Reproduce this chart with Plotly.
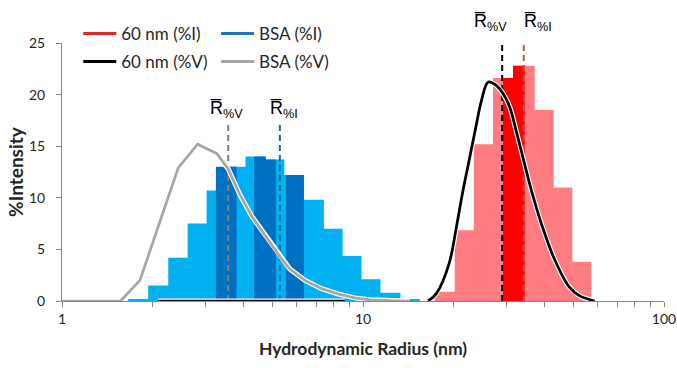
import math
import plotly.graph_objects as go

# ---------------- data ----------------
# BSA intensity distribution (bin edges in nm, %I per bin)
bsa_edges = [1.660, 1.934, 2.254, 2.615, 3.023, 3.506, 4.070, 4.721, 5.480,
             6.362, 7.413, 8.553, 9.886, 11.43, 13.32, 15.44]
bsa_int = [0.2, 1.5, 4.2, 7.5, 10.7, 13.0, 14.0, 13.7, 12.2, 9.8, 7.0, 4.35,
           2.1, 0.8, 0.2]
# highlighted BSA bars
bsa_dark_left = [3.246, 4.348, 4.757, 5.543]
bsa_dark_right = [3.802, 4.757, 5.135, 6.362]
bsa_dark_int = [13.0, 14.0, 13.7, 12.2]

# 60 nm particle intensity distribution
np_edges = [17.31, 20.17, 23.33, 27.04, 31.50, 37.19, 43.00, 49.61, 57.37]
np_int = [0.9, 6.85, 15.2, 21.6, 22.8, 18.5, 11.0, 3.8]
np_dark_left = [29.19, 31.50]
np_dark_right = [31.50, 34.44]
np_dark_int = [21.6, 22.8]

# BSA volume distribution
bsa_vol_r = [1.0, 1.564, 1.815, 2.433, 2.822, 3.263, 3.566, 3.899, 4.273,
             4.721, 5.294, 5.714, 6.409, 7.282, 8.266, 9.394, 10.53, 12.27, 14.30]
bsa_vol = [0, 0, 2.0, 12.9, 15.2, 14.3, 12.8, 10.3, 8.2, 6.4, 4.3, 3.1, 2.0,
           1.2, 0.68, 0.3, 0.12, 0.03, 0]

# 60 nm volume distribution
np_vol_r = [2.08, 8.7, None, 16.45, 17.54, 19.31, 20.44, 21.39, 22.51, 23.69,
            24.74, 26.02, 27.39, 29.19, 30.72, 32.40, 34.20, 36.52, 39.44,
            43.34, 48.33, 52.46, 55.90, 58.83]
np_vol = [0, 0, None, 0, 0.74, 3.6, 7.2, 10.4, 13.6, 16.8, 19.4, 21.2, 21.0,
          20.1, 18.8, 16.3, 13.6, 10.4, 7.2, 4.0, 1.4, 0.5, 0.2, 0]

# mean radii
bsa_mean_v = 3.566
bsa_mean_i = 5.294
np_mean_v = 29.0
np_mean_i = 34.2
bsa_mean_top = 17.2
np_mean_top = 25.0

# mean-label anchor (radius, %)
label_r = [3.517, 5.48, 26.47, 38.05]
label_y = [18.6, 18.6, 27.0, 27.0]
label_sub = ["%V", "%I", "%V", "%I"]

x_ticks = [1, 10, 100]
x_tick_labels = ["1", "10", "100"]
y_ticks = [0, 5, 10, 15, 20, 25]
y_max = 25

# ---------------- colours ----------------
C_LBLUE = "#00B0F0"
C_DBLUE = "#0070C0"
C_LRED = "#FF7C80"
C_RED = "#FF0000"
C_GRAY = "#A6A6A6"
C_AXIS = "#868686"
C_TXT = "#262626"

FONT = "Lato"


def rects(lefts, rights, heights):
    xs, ys = [], []
    for l, r, h in zip(lefts, rights, heights):
        xs += [l, l, r, r, l, None]
        ys += [0, h, h, 0, 0, None]
    return xs, ys


fig = go.Figure()

# histogram bars (step fill)
fig.add_trace(go.Scatter(x=bsa_edges, y=bsa_int + [bsa_int[-1]], mode="lines",
                         line=dict(shape="hv", width=0), fill="tozeroy",
                         fillcolor=C_LBLUE, showlegend=False, hoverinfo="skip"))
xs, ys = rects(bsa_dark_left, bsa_dark_right, bsa_dark_int)
fig.add_trace(go.Scatter(x=xs, y=ys, mode="lines", line=dict(width=0),
                         fill="toself", fillcolor=C_DBLUE, showlegend=False,
                         hoverinfo="skip"))
fig.add_trace(go.Scatter(x=np_edges, y=np_int + [np_int[-1]], mode="lines",
                         line=dict(shape="hv", width=0), fill="tozeroy",
                         fillcolor=C_LRED, showlegend=False, hoverinfo="skip"))
xs, ys = rects(np_dark_left, np_dark_right, np_dark_int)
fig.add_trace(go.Scatter(x=xs, y=ys, mode="lines", line=dict(width=0),
                         fill="toself", fillcolor=C_RED, showlegend=False,
                         hoverinfo="skip"))

# mean lines
for xm, top, col in [(bsa_mean_v, bsa_mean_top, "#7F7F7F"),
                     (bsa_mean_i, bsa_mean_top, "#1F6C94"),
                     (np_mean_v, np_mean_top, "#000000"),
                     (np_mean_i, np_mean_top, "#C0504D")]:
    fig.add_trace(go.Scatter(x=[xm, xm], y=[0, top], mode="lines",
                             line=dict(color=col, width=2, dash="6px,4px"),
                             showlegend=False, hoverinfo="skip",
                             cliponaxis=False))

# volume curves (white halo + coloured line)
fig.add_trace(go.Scatter(x=bsa_vol_r, y=bsa_vol, mode="lines",
                         line=dict(color="white", width=5),
                         showlegend=False, hoverinfo="skip"))
fig.add_trace(go.Scatter(x=bsa_vol_r, y=bsa_vol, mode="lines",
                         line=dict(color=C_GRAY, width=2.75),
                         showlegend=False, hoverinfo="skip"))
fig.add_trace(go.Scatter(x=np_vol_r, y=np_vol, mode="lines",
                         line=dict(color="white", width=5, shape="spline"),
                         showlegend=False, hoverinfo="skip"))
fig.add_trace(go.Scatter(x=np_vol_r, y=np_vol, mode="lines",
                         line=dict(color="black", width=2.75, shape="spline"),
                         showlegend=False, hoverinfo="skip"))

# legend entries
legend_items = [("60 nm (%I)", "#D9262B", "legend"),
                ("60 nm (%V)", "#000000", "legend"),
                ("BSA (%I)", "#2274B5", "legend2"),
                ("BSA (%V)", C_GRAY, "legend2")]
for i, (name, col, lg) in enumerate(legend_items):
    fig.add_trace(go.Scatter(x=[None], y=[None], mode="lines", name=name,
                             line=dict(color=col, width=3), legend=lg,
                             legendgroup=f"g{i}"))

# mean labels (annotation x on a log axis is given in log10 units;
# y in paper units so labels above the plot area stay visible)
for r, yv, sub in zip(label_r, label_y, label_sub):
    fig.add_annotation(x=math.log10(r), y=yv / y_max, xref="x", yref="paper",
                       text="R\u0305<sub>" + sub + "</sub>", showarrow=False,
                       xanchor="center", yanchor="middle",
                       font=dict(family="Liberation Sans", size=18, color="black"))

leg_common = dict(yanchor="top", xanchor="left", orientation="v",
                  tracegroupgap=3, itemwidth=33, bgcolor="rgba(0,0,0,0)",
                  font=dict(family=FONT, size=17, color=C_TXT))

fig.update_layout(
    width=677, height=368,
    margin=dict(l=62, r=13, t=42.5, b=67, autoexpand=False),
    paper_bgcolor="white", plot_bgcolor="white",
    font=dict(family=FONT, size=14, color=C_TXT),
    legend=dict(x=0.027, y=1.105, **leg_common),
    legend2=dict(x=0.256, y=1.105, **leg_common),
    xaxis=dict(type="log", range=[0, 2], tickvals=x_ticks,
               ticktext=x_tick_labels, ticks="outside", ticklen=5,
               tickcolor=C_AXIS, showline=True, linecolor=C_AXIS, linewidth=1,
               showgrid=False, zeroline=False, ticklabelstandoff=0,
               tickfont=dict(family=FONT, size=14, color=C_TXT),
               minor=dict(ticks="outside", ticklen=5, tickcolor=C_AXIS,
                          dtick="D1", showgrid=False),
               title=dict(text="<b>Hydrodynamic Radius (nm)</b>", standoff=16,
                          font=dict(family=FONT, size=17.5, color=C_TXT)),
               automargin=False),
    yaxis=dict(range=[0, y_max], tickvals=y_ticks, ticks="outside", ticklen=5,
               tickcolor=C_AXIS, showline=True, linecolor=C_AXIS, linewidth=1,
               showgrid=False, zeroline=False, ticklabelstandoff=8,
               tickfont=dict(family=FONT, size=14, color=C_TXT),
               title=dict(text="<b>%Intensity</b>", standoff=0,
                          font=dict(family=FONT, size=19, color=C_TXT)),
               automargin=False),
)

fig.write_html("out.html", config={"displayModeBar": False},
               post_script="document.body.style.margin='0px';")
